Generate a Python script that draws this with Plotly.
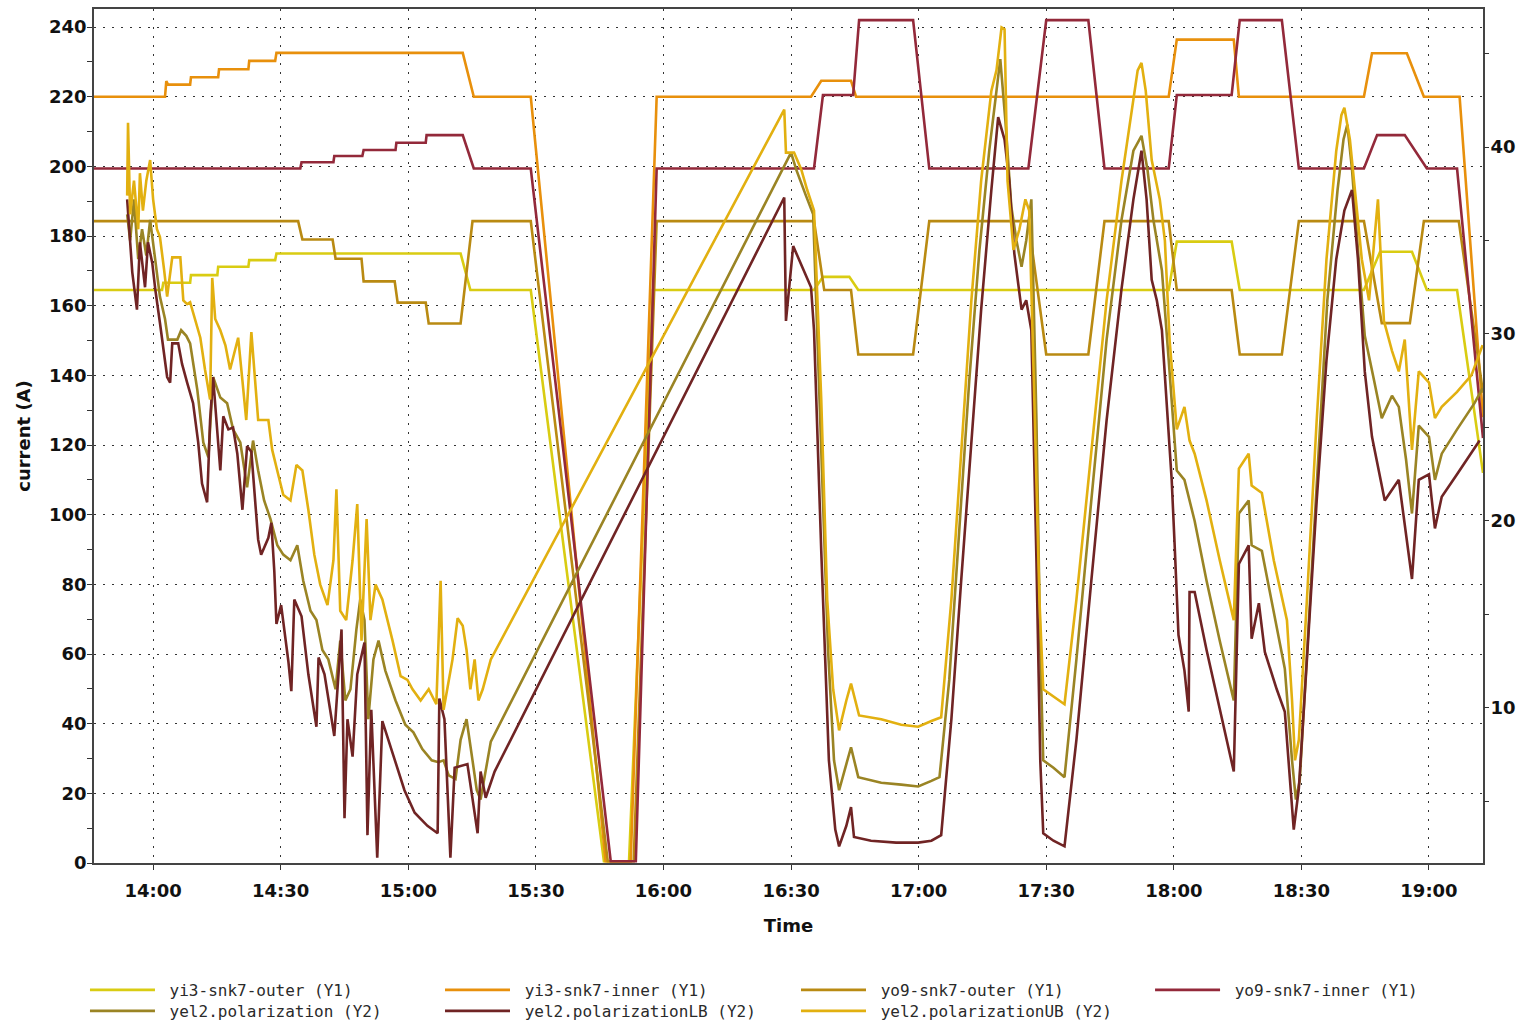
import plotly.graph_objects as go
import pandas as pd

# Reference time: all times below are minutes after 14:00 (date not shown on chart)
BASE = pd.Timestamp("2024-01-01 14:00:00")
X_RANGE_MIN = (-13.9, 312.7)

# ---------------- Y1 : currents (minutes after 14:00, A) ----------------
YI3_OUTER = [(-13.9, 164.5), (2.1, 164.5), (2.4, 166.6), (8.7, 166.6), (8.9, 168.8), (15.1, 168.8),
             (15.3, 171.2), (22.4, 171.2), (22.6, 173.1), (28.7, 173.1), (29.0, 175.0), (72.3, 175.0),
             (74.6, 164.5), (88.8, 164.5), (106.0, 0.5), (111.9, 0.5), (117.5, 164.5), (155.4, 164.5),
             (157.5, 168.3), (163.7, 168.3), (165.8, 164.5), (238.8, 164.5), (240.7, 178.4), (253.6, 178.4),
             (255.5, 164.5), (284.7, 164.5), (288.5, 175.5), (296.0, 175.5), (299.5, 164.5), (306.6, 164.5),
             (312.7, 112.0)]

YI3_INNER = [(-13.9, 220), (2.8, 220), (3.1, 224.5), (3.5, 223.5), (8.7, 223.5), (8.9, 225.6),
             (15.3, 225.6), (15.5, 227.9), (22.4, 227.9), (22.6, 230.3), (28.7, 230.3), (29.0, 232.6),
             (72.8, 232.6), (75.4, 220), (88.8, 220), (106.4, 0.5), (112.3, 0.5), (118.4, 220),
             (154.7, 220), (157.1, 224.6), (164.1, 224.6), (165.3, 220), (238.8, 220), (240.7, 236.4),
             (254.1, 236.4), (255.3, 220), (284.7, 220), (286.6, 232.5), (294.8, 232.5), (298.8, 220),
             (307.2, 220), (312.7, 128)]

YO9_OUTER = [(-13.9, 184.3), (34.1, 184.3), (35.1, 179.0), (42.2, 179.0), (42.9, 173.5), (49.0, 173.5),
             (49.5, 167.0), (56.8, 167.0), (57.5, 160.9), (64.1, 160.9), (64.8, 154.9), (72.3, 154.9),
             (75.1, 184.3), (88.8, 184.3), (106.9, 0.5), (113.0, 0.5), (118.4, 184.3), (155.4, 184.3),
             (157.8, 164.5), (164.1, 164.5), (165.8, 146.0), (178.7, 146.0), (182.5, 184.3), (205.8, 184.3),
             (210.0, 146.0), (219.9, 146.0), (223.7, 184.3), (238.8, 184.3), (240.7, 164.5), (253.6, 164.5),
             (255.5, 146.0), (265.4, 146.0), (269.4, 184.3), (284.7, 184.3), (288.9, 155.0), (295.5, 155.0),
             (298.8, 184.3), (307.0, 184.3), (312.7, 135.0)]

YO9_INNER = [(-13.9, 199.4), (34.6, 199.4), (34.9, 201.2), (42.4, 201.2), (42.6, 203.0), (49.2, 203.0),
             (49.5, 204.7), (57.0, 204.7), (57.2, 206.8), (64.1, 206.8), (64.3, 209.0), (72.8, 209.0),
             (75.4, 199.4), (88.8, 199.4), (107.6, 0.5), (113.5, 0.5), (118.4, 199.4), (155.4, 199.4),
             (157.5, 220.5), (164.6, 220.5), (166.0, 242.0), (178.7, 242.0), (182.5, 199.4), (205.8, 199.4),
             (210.0, 242.0), (219.9, 242.0), (223.7, 199.4), (238.8, 199.4), (240.7, 220.5), (253.6, 220.5),
             (255.5, 242.0), (265.4, 242.0), (269.4, 199.4), (284.7, 199.4), (287.8, 209.0), (294.3, 209.0),
             (299.5, 199.4), (306.6, 199.4), (312.7, 122.0)]

# ---------------- Y2 : polarization (minutes after 14:00, %) ----------------
POL = [(-6.1, 36.4), (-5.4, 35.0), (-4.5, 37.2), (-3.5, 34.0), (-2.6, 35.6), (-1.6, 34.2), (-0.7, 36.1),
       (0.5, 34.0), (1.6, 32.0), (2.8, 30.8), (3.5, 29.7), (5.7, 29.7), (6.6, 30.2), (7.8, 29.9),
       (8.7, 29.5), (10.4, 27.0), (11.8, 24.2), (13.0, 23.4), (14.1, 27.7), (15.8, 26.6), (17.4, 26.3),
       (18.8, 24.9), (20.5, 24.2), (22.1, 21.8), (23.5, 24.3), (24.7, 22.7), (26.1, 21.1), (27.6, 20.1),
       (29.2, 18.7), (30.6, 18.2), (32.3, 17.9), (33.9, 18.7), (35.3, 16.8), (37.0, 15.2), (38.4, 14.7),
       (39.8, 13.1), (41.2, 12.6), (42.9, 11.0), (44.0, 13.6), (45.2, 10.4), (46.4, 11.0), (47.8, 14.2),
       (48.7, 15.8), (49.7, 14.7), (50.6, 9.4), (51.8, 12.6), (53.0, 13.6), (54.6, 12.0), (57.0, 10.4),
       (59.3, 9.1), (61.2, 8.7), (63.3, 7.8), (65.5, 7.2), (67.1, 7.1), (68.3, 7.2), (69.5, 6.4),
       (71.1, 6.2), (72.3, 8.3), (73.7, 9.4), (75.1, 7.2), (76.1, 5.6), (77.0, 5.1), (77.9, 6.2),
       (79.4, 8.2), (150.0, 39.7), (151.2, 38.8), (153.5, 37.4), (155.2, 36.4), (157.1, 23.8),
       (158.7, 13.1), (160.1, 7.2), (161.3, 5.6), (163.0, 7.0), (164.1, 7.9), (165.8, 6.3), (171.2, 6.0),
       (175.9, 5.9), (179.9, 5.8), (183.0, 6.1), (184.9, 6.3), (187.2, 11.5), (189.6, 19.5), (191.9, 27.5),
       (194.3, 34.5), (196.6, 39.8), (198.3, 43.0), (199.2, 44.7), (200.4, 41.4), (201.8, 36.8),
       (203.0, 35.0), (204.2, 33.6), (205.3, 35.0), (206.5, 37.2), (207.7, 25.4), (208.6, 13.1),
       (209.3, 7.2), (211.7, 6.8), (214.3, 6.3), (217.1, 12.6), (220.6, 21.1), (224.2, 29.7),
       (227.7, 36.1), (230.5, 39.8), (232.4, 40.6), (233.8, 38.8), (235.2, 36.1), (237.2, 33.4),
       (238.8, 28.6), (240.7, 22.7), (242.5, 22.2), (244.9, 20.0), (247.7, 16.8), (250.8, 13.6),
       (254.1, 10.4), (254.8, 15.8), (255.3, 20.4), (257.6, 21.1), (258.3, 18.7), (260.7, 18.4),
       (263.5, 15.2), (266.1, 12.1), (267.8, 7.2), (268.7, 5.1), (269.6, 6.1), (271.5, 13.6),
       (273.8, 23.3), (276.1, 31.8), (278.5, 37.7), (279.9, 40.4), (280.8, 41.2), (281.9, 38.8),
       (283.3, 34.5), (284.9, 29.9), (287.1, 27.5), (288.9, 25.5), (291.3, 26.7), (292.9, 26.1),
       (294.6, 23.3), (296.0, 20.4), (297.6, 25.1), (300.0, 24.5), (301.4, 22.2), (303.0, 23.6),
       (306.6, 24.9), (310.7, 26.3), (312.6, 27.1)]

POL_LB = [(-6.1, 37.2), (-5.9, 36.6), (-4.9, 33.3), (-3.8, 31.3), (-3.1, 34.9), (-1.9, 32.5), (-1.2, 34.9),
          (-0.2, 33.8), (0.5, 32.4), (1.6, 30.6), (3.3, 27.7), (4.0, 27.4), (4.5, 29.5), (5.9, 29.5),
          (6.8, 28.4), (8.0, 27.4), (9.4, 26.3), (10.6, 24.2), (11.5, 22.0), (12.7, 21.0), (13.4, 25.4),
          (14.1, 27.7), (15.8, 22.7), (16.5, 25.6), (17.7, 24.9), (18.8, 25.0), (19.8, 23.6), (21.0, 20.6),
          (22.1, 24.0), (23.1, 23.7), (24.7, 19.0), (25.4, 18.2), (27.1, 19.1), (27.8, 19.9), (28.5, 17.3),
          (29.0, 14.5), (30.1, 15.5), (31.8, 12.5), (32.5, 10.9), (33.2, 15.8), (34.9, 14.9), (36.5, 11.8),
          (38.4, 9.0), (38.9, 12.7), (40.3, 11.8), (42.6, 8.5), (44.3, 14.2), (45.0, 4.1), (45.7, 9.4),
          (46.9, 7.4), (48.0, 11.8), (49.7, 13.5), (50.4, 3.2), (51.3, 9.9), (52.7, 2.0), (53.9, 9.3),
          (56.8, 7.2), (59.1, 5.6), (61.5, 4.4), (64.5, 3.7), (66.9, 3.3), (67.3, 10.5), (68.5, 9.4),
          (69.9, 2.0), (70.9, 6.8), (73.9, 7.0), (76.3, 3.3), (77.0, 6.6), (78.2, 5.2), (80.3, 6.6),
          (148.4, 37.3), (148.8, 30.7), (150.5, 34.7), (152.4, 33.7), (154.7, 32.5), (155.4, 30.2),
          (157.1, 18.4), (158.9, 7.2), (160.4, 3.5), (161.3, 2.6), (163.0, 3.7), (164.1, 4.7), (164.8, 3.1),
          (168.8, 2.9), (174.7, 2.8), (179.9, 2.8), (183.0, 2.9), (185.3, 3.2), (187.7, 9.4), (190.0, 16.8),
          (192.4, 24.3), (194.7, 31.3), (197.1, 37.7), (198.7, 41.6), (200.2, 40.4), (201.3, 38.2),
          (202.5, 34.3), (204.2, 31.3), (205.3, 31.8), (206.5, 30.2), (207.7, 17.9), (208.6, 7.2),
          (209.3, 3.3), (211.7, 2.9), (214.3, 2.6), (217.1, 8.3), (220.6, 16.8), (224.2, 25.4),
          (227.7, 32.4), (230.5, 37.2), (232.4, 39.8), (233.6, 37.2), (234.8, 32.9), (236.0, 31.8),
          (237.2, 30.2), (238.3, 26.5), (239.5, 22.2), (240.2, 18.7), (241.1, 13.9), (242.5, 12.0),
          (243.5, 9.8), (243.7, 16.2), (244.9, 16.2), (247.7, 13.1), (250.8, 9.9), (254.1, 6.6),
          (254.8, 13.1), (255.3, 17.7), (257.6, 18.7), (258.3, 13.7), (260.0, 15.6), (261.4, 13.0),
          (264.2, 11.0), (266.1, 9.8), (268.2, 3.5), (269.4, 5.7), (271.3, 12.6), (273.6, 21.1),
          (275.9, 28.6), (278.2, 34.0), (280.1, 36.6), (281.9, 37.7), (283.3, 34.0), (284.9, 28.0),
          (286.6, 24.5), (289.6, 21.1), (292.9, 22.2), (296.0, 16.9), (297.6, 22.2), (300.0, 22.5),
          (301.4, 19.6), (303.0, 21.3), (306.6, 22.5), (311.9, 24.3)]

POL_UB = [(-6.1, 37.4), (-5.9, 41.3), (-5.4, 36.4), (-4.5, 38.2), (-3.5, 35.6), (-3.1, 38.6), (-2.4, 36.6),
          (-1.6, 38.2), (-0.7, 39.3), (0.0, 37.2), (0.9, 35.6), (1.6, 35.2), (2.6, 33.4), (3.3, 32.0),
          (4.5, 34.1), (6.4, 34.1), (7.1, 31.8), (8.0, 31.6), (8.7, 31.7), (9.9, 30.8), (11.1, 29.8),
          (12.2, 28.1), (13.4, 26.5), (13.9, 33.0), (14.6, 30.8), (15.8, 30.2), (17.0, 29.4), (18.1, 28.1),
          (20.0, 29.8), (21.0, 27.5), (21.9, 25.4), (23.1, 30.1), (23.8, 28.0), (24.7, 25.4), (27.1, 25.4),
          (28.0, 23.8), (29.4, 22.5), (30.6, 21.4), (32.3, 21.1), (33.7, 23.0), (35.1, 22.7), (36.5, 20.6),
          (37.9, 18.2), (39.3, 16.6), (41.0, 15.5), (42.4, 17.9), (43.1, 21.7), (44.0, 15.2), (45.4, 14.7),
          (46.9, 17.9), (48.0, 20.9), (49.0, 13.6), (50.2, 20.1), (51.1, 14.7), (52.3, 16.6), (53.9, 15.8),
          (56.3, 13.6), (58.2, 11.7), (59.8, 11.5), (61.0, 11.0), (62.9, 10.4), (64.8, 11.0), (66.6, 10.2),
          (67.6, 16.8), (68.3, 9.9), (70.4, 12.6), (71.6, 14.8), (72.8, 14.4), (73.7, 13.1), (74.6, 11.0),
          (75.6, 12.6), (76.5, 10.4), (77.5, 11.0), (78.7, 12.1), (79.4, 12.6), (148.4, 42.0), (148.8, 39.7),
          (150.7, 39.7), (152.4, 38.8), (153.8, 37.7), (155.4, 36.6), (157.1, 26.5), (158.5, 15.8),
          (159.9, 11.0), (161.3, 8.8), (163.0, 10.4), (164.1, 11.3), (166.0, 9.6), (171.2, 9.4),
          (175.9, 9.1), (179.9, 9.0), (183.0, 9.3), (185.3, 9.5), (187.7, 15.8), (190.0, 23.8),
          (192.4, 31.8), (194.7, 38.2), (197.1, 43.0), (198.3, 44.1), (199.5, 46.4), (200.2, 46.3),
          (200.9, 38.2), (202.3, 34.5), (203.7, 35.6), (205.1, 37.2), (206.0, 36.6), (207.2, 26.5),
          (208.4, 15.8), (209.3, 11.0), (211.7, 10.6), (214.3, 10.2), (217.1, 15.8), (220.6, 23.8),
          (224.2, 31.8), (227.7, 38.2), (230.1, 42.0), (231.5, 44.1), (232.4, 44.5), (233.4, 43.0),
          (234.8, 39.3), (236.7, 37.2), (237.9, 35.0), (239.0, 29.7), (240.7, 24.9), (242.5, 26.1),
          (243.7, 24.3), (244.9, 23.6), (247.7, 21.1), (250.8, 17.9), (254.1, 14.7), (254.8, 19.0),
          (255.3, 22.8), (257.6, 23.6), (258.3, 21.9), (260.7, 21.5), (263.5, 17.9), (266.6, 14.7),
          (267.8, 10.4), (268.5, 7.2), (269.4, 8.3), (271.3, 15.8), (273.6, 25.4), (275.9, 34.0),
          (278.2, 39.8), (279.4, 41.7), (280.1, 42.1), (281.4, 40.4), (282.6, 37.7), (284.2, 34.0),
          (285.9, 31.8), (288.0, 37.2), (289.4, 30.7), (291.3, 29.1), (292.9, 28.0), (294.3, 29.7),
          (296.0, 23.8), (297.6, 28.0), (300.0, 27.4), (301.4, 25.5), (303.0, 26.1), (306.6, 26.9),
          (310.0, 27.8), (312.6, 29.4)]

# name, data, axis, colour, legend id (one legend box per entry, laid out in a 4-column grid)
SERIES = [
    ("yi3-snk7-outer (Y1)", YI3_OUTER, "y", "#d9cc12", "legend"),
    ("yi3-snk7-inner (Y1)", YI3_INNER, "y", "#e8900c", "legend2"),
    ("yo9-snk7-outer (Y1)", YO9_OUTER, "y", "#b98a12", "legend3"),
    ("yo9-snk7-inner (Y1)", YO9_INNER, "y", "#93293a", "legend4"),
    ("yel2.polarization (Y2)", POL, "y2", "#9a8424", "legend5"),
    ("yel2.polarizationLB (Y2)", POL_LB, "y2", "#702424", "legend6"),
    ("yel2.polarizationUB (Y2)", POL_UB, "y2", "#e2b010", "legend7"),
]
LEGEND_GRID = {"legend": (0, 0), "legend2": (1, 0), "legend3": (2, 0), "legend4": (3, 0),
               "legend5": (0, 1), "legend6": (1, 1), "legend7": (2, 1)}

Y1_RANGE = (0, 245.2)
Y2_RANGE = (1.71, 47.38)
X_TICK_LABELS = ["14:00", "14:30", "15:00", "15:30", "16:00", "16:30",
                 "17:00", "17:30", "18:00", "18:30", "19:00"]


def to_time(mins):
    return [BASE + pd.Timedelta(minutes=m) for m in mins]


fig = go.Figure()
for name, pts, yax, color, leg in SERIES:
    t = [p[0] for p in pts]
    v = [p[1] for p in pts]
    fig.add_trace(go.Scatter(x=to_time(t), y=v, yaxis=yax, name="\u00a0" + name, mode="lines",
                             legend=leg, line=dict(color=color, width=2.6)))

FONT = "DejaVu Sans, Verdana, sans-serif"
tickvals = [BASE + pd.Timedelta(minutes=30 * i) for i in range(len(X_TICK_LABELS))]
tickfont = dict(family=FONT, size=18, color="#111", weight="bold")
grid = dict(showgrid=True, gridcolor="#333", gridwidth=1.3, griddash="2px,7px")

legends = {}
col_x = [-0.0065, 0.2491, 0.5054, 0.7603]
row_y = [-0.1487, -0.1733]
for key, (c, r) in LEGEND_GRID.items():
    legends[key] = dict(orientation="v", x=col_x[c], xanchor="left", y=row_y[r], yanchor="middle",
                        itemwidth=65, font=dict(family="DejaVu Sans Mono, monospace", size=16, color="#2a2a2a"),
                        bgcolor="rgba(0,0,0,0)", borderwidth=0)

fig.update_layout(
    width=1519, height=1024,
    margin=dict(l=94, r=36, t=9, b=161, autoexpand=False),
    paper_bgcolor="white", plot_bgcolor="white",
    showlegend=True,
    xaxis=dict(type="date",
               range=[BASE + pd.Timedelta(minutes=X_RANGE_MIN[0]), BASE + pd.Timedelta(minutes=X_RANGE_MIN[1])],
               tickvals=tickvals, ticktext=X_TICK_LABELS, tickfont=tickfont,
               ticks="outside", ticklen=5, tickcolor="#333", ticklabelstandoff=6,
               showline=True, linecolor="#444", linewidth=1.5, mirror=True, zeroline=False,
               title=dict(text="Time", font=dict(family=FONT, size=18, color="#111", weight="bold"),
                          standoff=19),
               **grid),
    yaxis=dict(range=list(Y1_RANGE), tickmode="linear", tick0=0, dtick=20, tickfont=tickfont,
               ticks="outside", ticklen=5, tickcolor="#333", ticklabelstandoff=-3,
               minor=dict(dtick=10, ticks="outside", ticklen=5, tickcolor="#333", showgrid=False),
               showline=True, linecolor="#444", linewidth=1.5, mirror=True, zeroline=False,
               title=dict(text="current (A)", font=dict(family=FONT, size=18, color="#111", weight="bold"),
                          standoff=14),
               **grid),
    yaxis2=dict(range=list(Y2_RANGE), overlaying="y", side="right", tickmode="linear", tick0=0, dtick=10,
                tickfont=tickfont, ticks="outside", ticklen=5, tickcolor="#333", ticklabelstandoff=-2,
                minor=dict(dtick=5, ticks="outside", ticklen=5, tickcolor="#333", showgrid=False),
                showgrid=False, zeroline=False, showline=False),
    **legends,
)

fig.write_html("out.html", config={"displayModeBar": False},
               post_script="document.body.style.margin='0';")
